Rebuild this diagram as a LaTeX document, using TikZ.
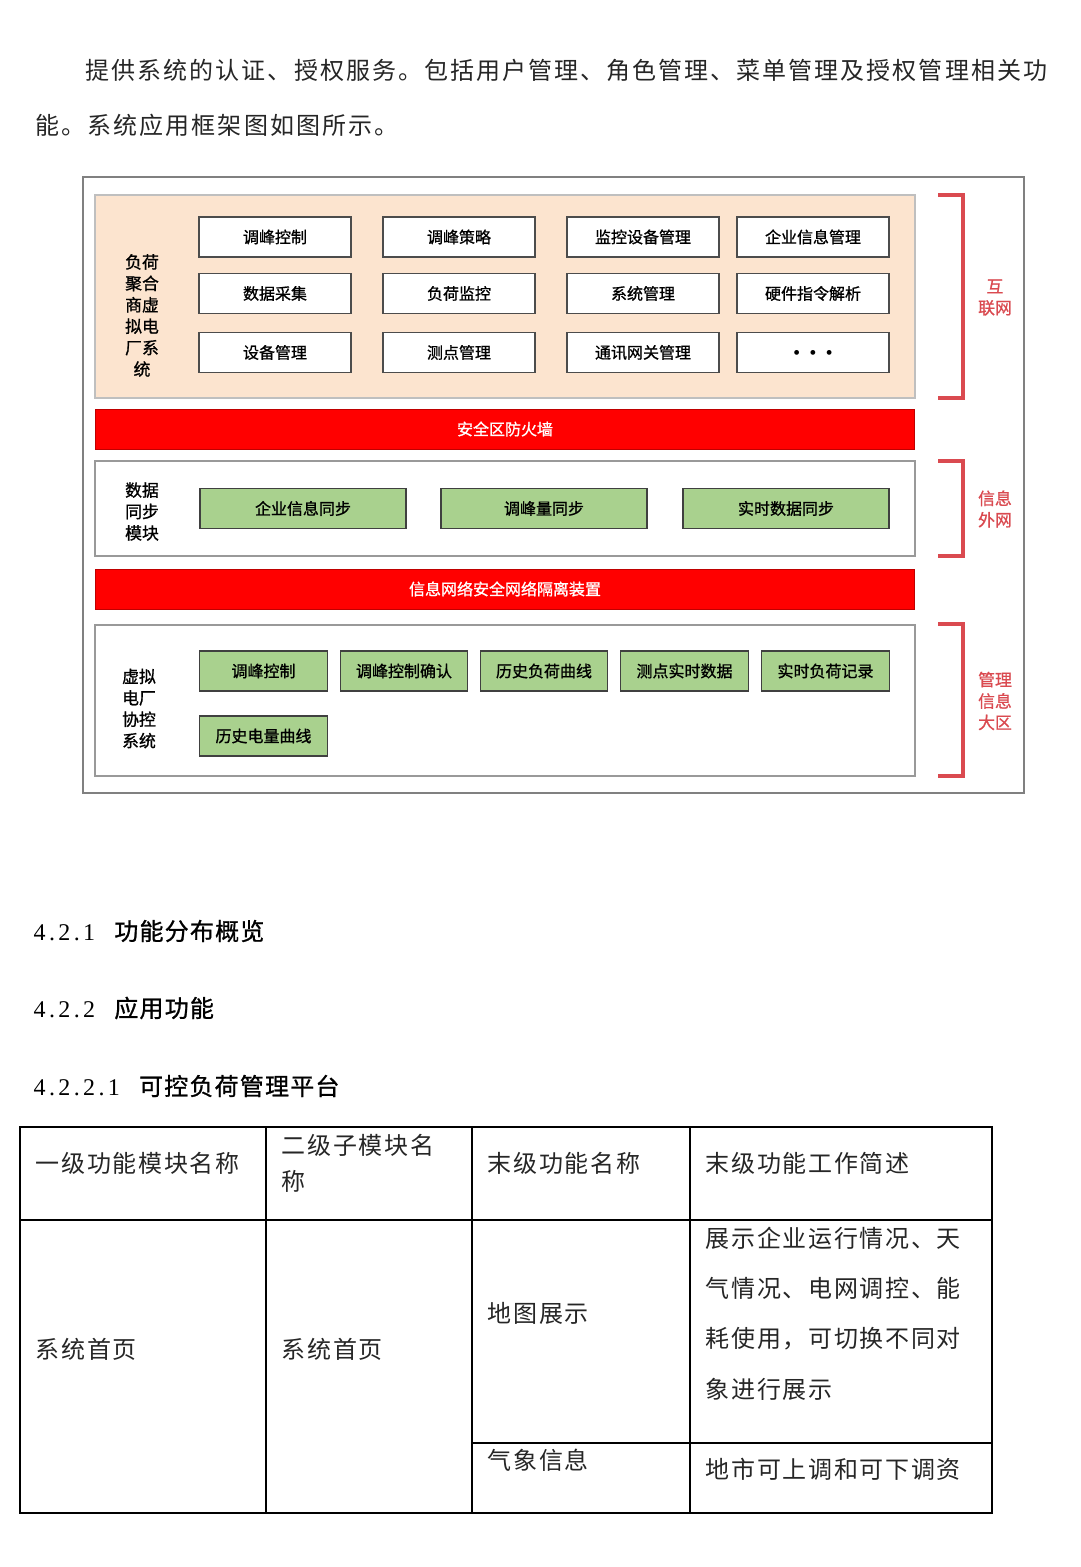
\documentclass[tikz,border=0pt]{standalone}
\usepackage{fontspec}
\setmainfont{Noto Sans CJK SC}
\newfontfamily\cjkb[FakeBold=1]{Noto Sans CJK SC}
\newfontfamily\bodyfont[LetterSpace=8.5]{Noto Sans CJK SC}
\newfontfamily\tabfont[LetterSpace=7]{Noto Sans CJK SC}
\newfontfamily\headfont[LetterSpace=5,FakeBold=1]{Noto Sans CJK SC}
\newfontfamily\numfont[LetterSpace=14]{Liberation Serif}
\definecolor{peach}{HTML}{FCE4CF}
\definecolor{leaf}{HTML}{A9D18E}
\definecolor{brk}{HTML}{DA4A50}
\definecolor{framegray}{HTML}{808080}

\begin{document}
\begin{tikzpicture}[x=0.02cm, y=-0.02cm, line width=0.8pt,
  wbox/.style={draw=black!70, fill=white, minimum width=3.04cm, minimum height=0.8cm, inner sep=0pt,
    font=\cjkb\fontsize{9.1}{11}\selectfont},
  gbox/.style={draw=black!75, fill=leaf, minimum height=0.8cm, inner sep=0pt,
    font=\cjkb\fontsize{9.1}{11}\selectfont},
  rbar/.style={draw=red!75!black, line width=0.5pt, fill=red, minimum width=16.4cm, minimum height=0.8cm,
    inner sep=0pt, text=white, font=\cjkb\fontsize{9.1}{11}\selectfont},
  side/.style={align=center, inner sep=0pt, font=\cjkb\fontsize{9.6}{12.2}\selectfont},
  brklab/.style={align=center, inner sep=0pt, text=brk, font=\cjkb\fontsize{9.6}{12.2}\selectfont},
  brace/.style={draw=brk, line width=2.3pt},
  para/.style={anchor=west, inner sep=0pt, text=black!85, font=\bodyfont\fontsize{13.66}{16}\selectfont},
  head/.style={anchor=west, inner sep=0pt, font=\headfont\fontsize{13.66}{16}\selectfont},
  cell/.style={anchor=west, inner sep=0pt, align=left, text=black!85, font=\tabfont\fontsize{13.66}{16}\selectfont}]
  \useasboundingbox (0,0) rectangle (1080,1567);
  \fill[white] (0,0) rectangle (1080,1567);

  % 正文
  \node[para] (p1) at (85,70) {提供系统的认证、授权服务。包括用户管理、角色管理、菜单管理及授权管理相关功};
  \node[para] (p2) at (35,125) {能。系统应用框架图如图所示。};

  % 外框
  \draw[framegray, line width=1pt] (83,177) rectangle (1024,793);

  % 负荷聚合商虚拟电厂系统
  \draw[black!25, fill=peach, line width=1.4pt] (95,195) rectangle (915,398);
  \node[side] (agg) at (142,315.5) {负荷\\聚合\\商虚\\拟电\\厂系\\统};
  \node[wbox] (a11) at (275,237) {调峰控制};
  \node[wbox] (a12) at (459,237) {调峰策略};
  \node[wbox] (a13) at (643,237) {监控设备管理};
  \node[wbox] (a14) at (813,237) {企业信息管理};
  \node[wbox] (a21) at (275,293.5) {数据采集};
  \node[wbox] (a22) at (459,293.5) {负荷监控};
  \node[wbox] (a23) at (643,293.5) {系统管理};
  \node[wbox] (a24) at (813,293.5) {硬件指令解析};
  \node[wbox] (a31) at (275,352.5) {设备管理};
  \node[wbox] (a32) at (459,352.5) {测点管理};
  \node[wbox] (a33) at (643,352.5) {通讯网关管理};
  \node[wbox] (a34) at (813,352.5) {\raisebox{-0.6ex}{$\scriptstyle\bullet\hspace{0.6em}\bullet\hspace{0.6em}\bullet$}};

  % 防火墙
  \node[rbar] (wall) at (505,429) {安全区防火墙};

  % 数据同步模块
  \draw[black!40, fill=white] (95,461) rectangle (915,556);
  \node[side] (sync) at (142,511.5) {数据\\同步\\模块};
  \node[gbox, minimum width=4.12cm] (s1) at (303,508.5) {企业信息同步};
  \node[gbox, minimum width=4.12cm] (s2) at (544,508.5) {调峰量同步};
  \node[gbox, minimum width=4.12cm] (s3) at (786,508.5) {实时数据同步};

  % 隔离装置
  \node[rbar] (iso) at (505,589) {信息网络安全网络隔离装置};

  % 虚拟电厂协控系统
  \draw[black!40, fill=white] (95,625) rectangle (915,776);
  \node[side] (vpp) at (139,708.5) {虚拟\\电厂\\协控\\系统};
  \node[gbox, minimum width=2.55cm] (v1) at (263.5,671) {调峰控制};
  \node[gbox, minimum width=2.55cm] (v2) at (404,671) {调峰控制确认};
  \node[gbox, minimum width=2.55cm] (v3) at (544,671) {历史负荷曲线};
  \node[gbox, minimum width=2.55cm] (v4) at (684.5,671) {测点实时数据};
  \node[gbox, minimum width=2.55cm] (v5) at (825.5,671) {实时负荷记录};
  \node[gbox, minimum width=2.55cm] (v6) at (263.5,736) {历史电量曲线};

  % 右侧分区
  \draw[brace] (938,195) -- (963,195) -- (963,398) -- (938,398);
  \node[brklab] (net1) at (995,297.5) {互\\联网};
  \draw[brace] (938,461) -- (963,461) -- (963,556) -- (938,556);
  \node[brklab] (net2) at (995,509) {信息\\外网};
  \draw[brace] (938,624) -- (963,624) -- (963,776) -- (938,776);
  \node[brklab] (net3) at (995,701) {管理\\信息\\大区};

  % 标题
  \node[head] (h1) at (33,931) {{\numfont\fontsize{13.66}{16}\selectfont 4.2.1}\hspace{0.8em}功能分布概览};
  \node[head] (h2) at (33,1008) {{\numfont\fontsize{13.66}{16}\selectfont 4.2.2}\hspace{0.8em}应用功能};
  \node[head] (h3) at (33,1086) {{\numfont\fontsize{13.66}{16}\selectfont 4.2.2.1}\hspace{0.8em}可控负荷管理平台};

  % 表格
  \draw[black, line width=0.9pt] (20,1127) rectangle (992,1513);
  \draw[black, line width=0.9pt] (20,1220) -- (992,1220);
  \draw[black, line width=0.9pt] (472,1443) -- (992,1443);
  \draw[black, line width=0.9pt] (266,1127) -- (266,1513);
  \draw[black, line width=0.9pt] (472,1127) -- (472,1513);
  \draw[black, line width=0.9pt] (690,1127) -- (690,1513);
  \node[cell] (t11) at (35,1163) {一级功能模块名称};
  \node[cell, font=\tabfont\fontsize{13.66}{20.5}\selectfont] (t12) at (281,1163) {二级子模块名\\称};
  \node[cell] (t13) at (487,1163) {末级功能名称};
  \node[cell] (t14) at (705,1163) {末级功能工作简述};
  \node[cell] (t21) at (35,1349) {系统首页};
  \node[cell] (t22) at (281,1349) {系统首页};
  \node[cell] (t23) at (487,1313) {地图展示};
  \node[cell, font=\tabfont\fontsize{13.66}{28.6}\selectfont] (t24) at (705,1313.5)
    {展示企业运行情况、天\\气情况、电网调控、能\\耗使用，可切换不同对\\象进行展示};
  \node[cell] (t33) at (487,1460) {气象信息};
  \node[cell] (t34) at (705,1469) {地市可上调和可下调资};
\end{tikzpicture}
\end{document}
